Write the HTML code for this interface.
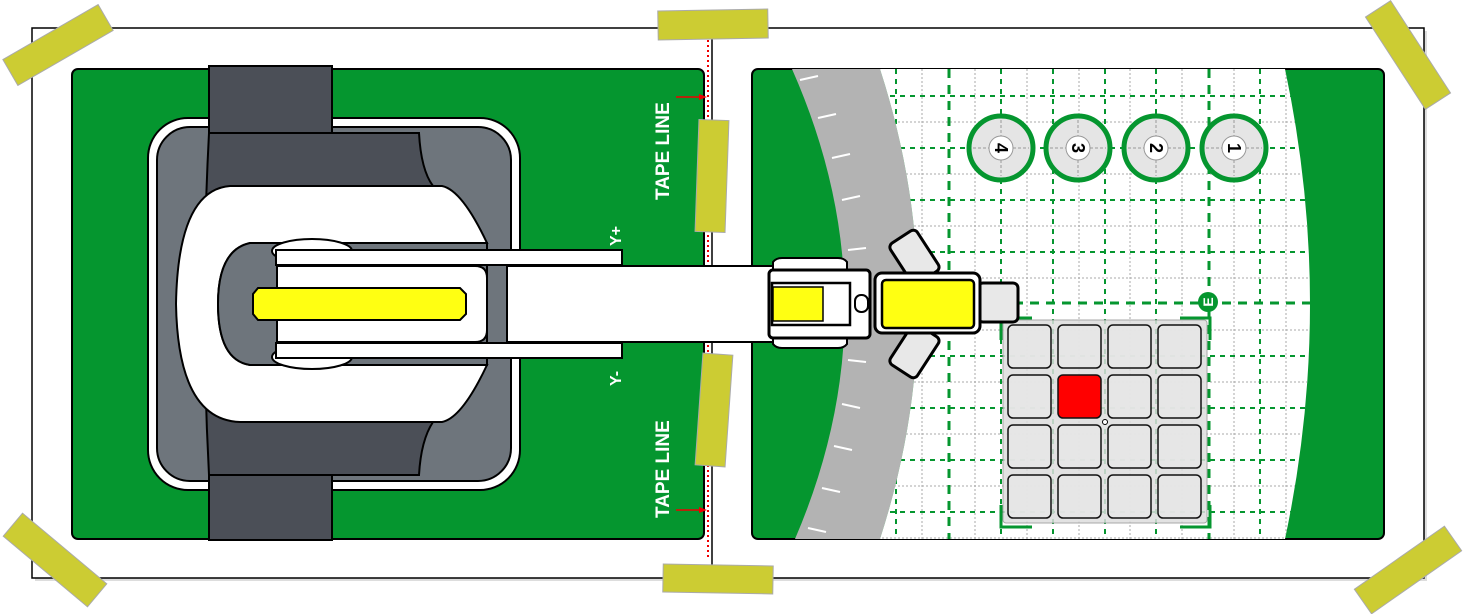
<!DOCTYPE html>
<html><head><meta charset="utf-8"><style>html,body{margin:0;padding:0;background:#fff}svg{display:block}</style></head><body>
<svg width="1473" height="614" viewBox="0 0 1473 614" xmlns="http://www.w3.org/2000/svg" font-family="Liberation Sans, sans-serif">
<defs>
<clipPath id="white"><path d="M880,69 Q956,304 880,539 L1285,539 Q1335,304 1285,69 Z"/></clipPath>
<clipPath id="mat"><rect x="752" y="69" width="632" height="470" rx="6"/></clipPath>
</defs>
<rect x="35" y="31" width="1392" height="550" fill="#bbb" opacity="0.5"/>
<rect x="32" y="28" width="1392" height="550" fill="#fff" stroke="#000" stroke-width="1.5"/>
<line x1="712" y1="28" x2="712" y2="578" stroke="#000" stroke-width="1.5"/>
<line x1="708" y1="40" x2="708" y2="560" stroke="#e00" stroke-width="2" stroke-dasharray="2,3"/>
<rect x="72" y="69" width="632" height="470" rx="6" fill="#05962f" stroke="#000" stroke-width="2"/>
<rect x="752" y="69" width="632" height="470" rx="6" fill="#05962f" stroke="#000" stroke-width="2"/>
<g clip-path="url(#mat)">
<path d="M792,69 Q896,304 795,539 L880,539 Q956,304 880,69 Z" fill="#b3b3b3"/>
<path d="M880,69 Q956,304 880,539 L1285,539 Q1335,304 1285,69 Z" fill="#fff"/>
<g stroke="#fff" stroke-width="2">
<line x1="800" y1="80" x2="818" y2="76"/><line x1="818" y1="118" x2="836" y2="114"/><line x1="832" y1="158" x2="850" y2="154"/><line x1="842" y1="200" x2="860" y2="196"/><line x1="848" y1="250" x2="866" y2="248"/><line x1="848" y1="360" x2="866" y2="362"/><line x1="842" y1="404" x2="860" y2="408"/><line x1="834" y1="446" x2="852" y2="450"/><line x1="822" y1="488" x2="840" y2="492"/><line x1="808" y1="528" x2="826" y2="532"/>
</g>
<g clip-path="url(#white)">
<g stroke="#aaa" stroke-width="1" stroke-dasharray="2,2">
<line x1="870" y1="122" x2="1340" y2="122"/><line x1="870" y1="174" x2="1340" y2="174"/><line x1="870" y1="226" x2="1340" y2="226"/><line x1="870" y1="278" x2="1340" y2="278"/><line x1="870" y1="330" x2="1340" y2="330"/><line x1="870" y1="382" x2="1340" y2="382"/><line x1="870" y1="434" x2="1340" y2="434"/><line x1="870" y1="486" x2="1340" y2="486"/><line x1="870" y1="538" x2="1340" y2="538"/>
<line x1="922" y1="69" x2="922" y2="539"/><line x1="975" y1="69" x2="975" y2="539"/><line x1="1027" y1="69" x2="1027" y2="539"/><line x1="1079" y1="69" x2="1079" y2="539"/><line x1="1130" y1="69" x2="1130" y2="539"/><line x1="1182" y1="69" x2="1182" y2="539"/><line x1="1234" y1="69" x2="1234" y2="539"/><line x1="1286" y1="69" x2="1286" y2="539"/>
</g>
<g stroke="#05962f" stroke-width="2" stroke-dasharray="5,5">
<line x1="870" y1="96" x2="1340" y2="96"/><line x1="870" y1="148" x2="1340" y2="148"/><line x1="870" y1="200" x2="1340" y2="200"/><line x1="870" y1="252" x2="1340" y2="252"/><line x1="870" y1="356" x2="1340" y2="356"/><line x1="870" y1="408" x2="1340" y2="408"/><line x1="870" y1="460" x2="1340" y2="460"/><line x1="870" y1="512" x2="1340" y2="512"/>
<line x1="896" y1="69" x2="896" y2="539"/><line x1="1001" y1="69" x2="1001" y2="539"/><line x1="1053" y1="69" x2="1053" y2="539"/><line x1="1105" y1="69" x2="1105" y2="539"/><line x1="1156" y1="69" x2="1156" y2="539"/><line x1="1260" y1="69" x2="1260" y2="539"/>
</g>
<g stroke="#05962f" stroke-width="3" stroke-dasharray="9,7">
<line x1="870" y1="303" x2="1340" y2="303"/><line x1="949" y1="69" x2="949" y2="539"/><line x1="1209" y1="69" x2="1209" y2="539"/>
</g>
</g>
</g>
<g>
<g transform="translate(1001,148)"><circle r="32" fill="#e5e5e5" stroke="#05962f" stroke-width="5"/><line x1="-28" y1="0" x2="28" y2="0" stroke="#999" stroke-dasharray="3,2"/><line x1="0" y1="-28" x2="0" y2="28" stroke="#999" stroke-dasharray="3,2"/><circle r="12" fill="#fff" stroke="#999"/><text transform="rotate(90)" text-anchor="middle" y="6" font-size="18" font-weight="bold">4</text></g>
<g transform="translate(1078,148)"><circle r="32" fill="#e5e5e5" stroke="#05962f" stroke-width="5"/><line x1="-28" y1="0" x2="28" y2="0" stroke="#999" stroke-dasharray="3,2"/><line x1="0" y1="-28" x2="0" y2="28" stroke="#999" stroke-dasharray="3,2"/><circle r="12" fill="#fff" stroke="#999"/><text transform="rotate(90)" text-anchor="middle" y="6" font-size="18" font-weight="bold">3</text></g>
<g transform="translate(1156,148)"><circle r="32" fill="#e5e5e5" stroke="#05962f" stroke-width="5"/><line x1="-28" y1="0" x2="28" y2="0" stroke="#999" stroke-dasharray="3,2"/><line x1="0" y1="-28" x2="0" y2="28" stroke="#999" stroke-dasharray="3,2"/><circle r="12" fill="#fff" stroke="#999"/><text transform="rotate(90)" text-anchor="middle" y="6" font-size="18" font-weight="bold">2</text></g>
<g transform="translate(1234,148)"><circle r="32" fill="#e5e5e5" stroke="#05962f" stroke-width="5"/><line x1="-28" y1="0" x2="28" y2="0" stroke="#999" stroke-dasharray="3,2"/><line x1="0" y1="-28" x2="0" y2="28" stroke="#999" stroke-dasharray="3,2"/><circle r="12" fill="#fff" stroke="#999"/><text transform="rotate(90)" text-anchor="middle" y="6" font-size="18" font-weight="bold">1</text></g>
</g>
<circle cx="1208" cy="302" r="10" fill="#05962f"/>
<text x="1208" y="307" transform="rotate(-90 1208 302)" text-anchor="middle" fill="#fff" font-size="14" font-weight="bold">E</text>
<rect x="1003" y="320" width="204" height="203" rx="3" fill="#ddd" opacity="0.85" stroke="#999"/>
<g fill="#e6e6e6" fill-opacity="0.85" stroke="#111" stroke-width="1.5">
<rect x="1008" y="325" width="43" height="43" rx="5"/><rect x="1058" y="325" width="43" height="43" rx="5"/><rect x="1108" y="325" width="43" height="43" rx="5"/><rect x="1158" y="325" width="43" height="43" rx="5"/>
<rect x="1008" y="375" width="43" height="43" rx="5"/><rect x="1058" y="375" width="43" height="43" rx="5" fill="#f00" fill-opacity="1"/><rect x="1108" y="375" width="43" height="43" rx="5"/><rect x="1158" y="375" width="43" height="43" rx="5"/>
<rect x="1008" y="425" width="43" height="43" rx="5"/><rect x="1058" y="425" width="43" height="43" rx="5"/><rect x="1108" y="425" width="43" height="43" rx="5"/><rect x="1158" y="425" width="43" height="43" rx="5"/>
<rect x="1008" y="475" width="43" height="43" rx="5"/><rect x="1058" y="475" width="43" height="43" rx="5"/><rect x="1108" y="475" width="43" height="43" rx="5"/><rect x="1158" y="475" width="43" height="43" rx="5"/>
</g>
<circle cx="1105" cy="422" r="2.5" fill="#fff" stroke="#000"/>
<g stroke="#05962f" stroke-width="3" fill="none">
<path d="M1001,340 V318 H1032"/><path d="M1180,318 H1210 V340"/><path d="M1001,505 V527 H1032"/><path d="M1180,527 H1210 V505"/>
</g>
<!-- base -->
<rect x="148" y="118" width="372" height="372" rx="40" fill="#fff" stroke="#000" stroke-width="2"/>
<rect x="157" y="127" width="354" height="354" rx="33" fill="#6e757c" stroke="#000" stroke-width="2"/>
<path d="M209,133 H419 Q421,170 433,186 V422 Q421,440 419,475 H209 Q200,304 209,133 Z" fill="#4b4f57" stroke="#000" stroke-width="2"/>
<rect x="209" y="66" width="123" height="67" fill="#4b4f57" stroke="#000" stroke-width="2"/>
<rect x="209" y="475" width="123" height="65" fill="#4b4f57" stroke="#000" stroke-width="2"/>
<path d="M230,186 H442 Q462,190 487,243 H250 Q218,250 218,304 Q218,360 250,365 H487 Q462,418 442,422 H240 Q178,420 176,304 Q178,190 230,186 Z" fill="#fff" stroke="#000" stroke-width="2"/>
<path d="M250,243 H487 V365 H250 Q218,360 218,304 Q218,250 250,243 Z" fill="#6e757c" stroke="#000" stroke-width="2"/>
<ellipse cx="312" cy="251" rx="40" ry="12" fill="#fff" stroke="#000" stroke-width="2"/>
<ellipse cx="312" cy="357" rx="40" ry="12" fill="#fff" stroke="#000" stroke-width="2"/>
<path d="M277,266 H475 Q487,266 487,278 V330 Q487,342 475,342 H277 Z" fill="#fff" stroke="#000" stroke-width="2"/>
<rect x="507" y="266" width="270" height="76" fill="#fff" stroke="#000" stroke-width="2"/>
<rect x="276" y="250" width="346" height="15" fill="#fff" stroke="#000" stroke-width="2"/>
<rect x="276" y="343" width="346" height="15" fill="#fff" stroke="#000" stroke-width="2"/>
<path d="M258,288 H460 L466,294 V314 L460,320 H258 L253,314 V294 Z" fill="#ffff12" stroke="#000" stroke-width="2"/>
<text transform="translate(621,246) rotate(-90)" fill="#fff" font-size="16" font-weight="bold">Y+</text>
<text transform="translate(621,386) rotate(-90)" fill="#fff" font-size="16" font-weight="bold">Y-</text>
<!-- gripper -->
<path d="M773,270 V262 Q776,258 782,258 H838 Q844,258 847,262 V270 Z" fill="#fff" stroke="#000" stroke-width="2"/>
<path d="M773,338 V344 Q776,348 782,348 H838 Q844,348 847,344 V338 Z" fill="#fff" stroke="#000" stroke-width="2"/>
<rect x="769" y="270" width="101" height="68" rx="4" fill="#fff" stroke="#000" stroke-width="3"/>
<rect x="772" y="283" width="78" height="42" fill="#fff" stroke="#000" stroke-width="2.5"/>
<rect x="773" y="287" width="50" height="34" fill="#ffff12" stroke="#000" stroke-width="1.5"/>
<rect x="855" y="295" width="13" height="17" rx="6" fill="#fff" stroke="#000" stroke-width="2"/>
<g transform="translate(915,258) rotate(-33)"><rect x="-16" y="-25" width="32" height="48" rx="5" fill="#e8e8e8" stroke="#000" stroke-width="3"/></g>
<g transform="translate(915,350) rotate(33)"><rect x="-16" y="-23" width="32" height="48" rx="5" fill="#e8e8e8" stroke="#000" stroke-width="3"/></g>
<rect x="978" y="283" width="40" height="39" rx="5" fill="#e8e8e8" stroke="#000" stroke-width="3"/>
<rect x="875" y="273" width="105" height="60" rx="7" fill="#fff" stroke="#000" stroke-width="3"/>
<rect x="882" y="280" width="92" height="48" rx="4" fill="#ffff12" stroke="#000" stroke-width="2.5"/>
<text transform="translate(669,200) rotate(-90)" fill="#fff" font-size="19" font-weight="bold">TAPE LINE</text>
<text transform="translate(669,518) rotate(-90)" fill="#fff" font-size="19" font-weight="bold">TAPE LINE</text>
<line x1="676" y1="97" x2="702" y2="97" stroke="#e00" stroke-width="1.5"/><path d="M707,97 L699,94 L699,100 Z" fill="#e00"/>
<line x1="676" y1="510" x2="702" y2="510" stroke="#e00" stroke-width="1.5"/><path d="M707,510 L699,507 L699,513 Z" fill="#e00"/>
<g fill="#cccc33" stroke="#aaa" stroke-width="1">
<rect x="-55" y="-15" width="110" height="30" transform="translate(58,45) rotate(-30)"/>
<rect x="658" y="10" width="110" height="29" transform="rotate(-1 713 25)"/>
<rect x="-55" y="-15" width="110" height="30" transform="translate(1408,55) rotate(57)"/>
<rect x="-55" y="-15" width="110" height="30" transform="translate(55,560) rotate(40)"/>
<rect x="663" y="565" width="110" height="28" transform="rotate(1 718 579)"/>
<rect x="-55" y="-15" width="110" height="30" transform="translate(1408,570) rotate(-35)"/>
<rect x="-15" y="-56" width="30" height="112" transform="translate(712,176) rotate(2)"/>
<rect x="-15" y="-56" width="30" height="112" transform="translate(714,410) rotate(4)"/>
</g>
</svg>
</body></html>
